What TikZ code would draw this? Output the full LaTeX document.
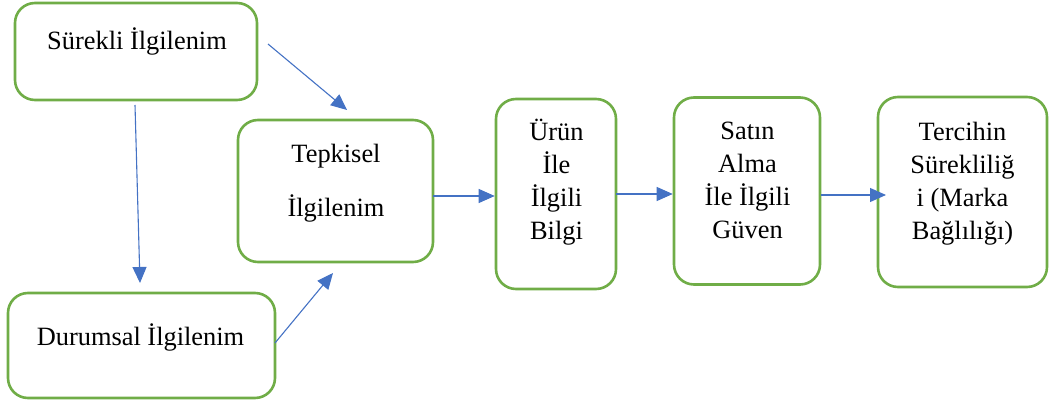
\documentclass[tikz,border=0pt]{standalone}
\usepackage{fontspec}
\setmainfont{Liberation Serif}
\usetikzlibrary{arrows.meta}
\definecolor{boxgreen}{RGB}{112,173,71}
\definecolor{arrowblue}{RGB}{68,114,196}
\begin{document}
\begin{tikzpicture}[x=1pt,y=-1pt,
  box/.style={draw=boxgreen,line width=2.6pt,rounded corners=20pt,inner sep=0pt},
  txt/.style={inner sep=0pt,align=center,anchor=base,font=\fontsize{26.4}{33.3}\selectfont},
  conn/.style={draw=arrowblue,line width=1.1pt,-{Triangle[length=16pt,width=14pt]}}]
\useasboundingbox (0,0) rectangle (1049,403);
% boxes
\node[box,minimum width=242pt,minimum height=97pt] (b1) at (136,51.5) {};
\node[box,minimum width=195pt,minimum height=142pt] (b2) at (335.5,191) {};
\node[box,minimum width=120pt,minimum height=190pt] (b3) at (556,194) {};
\node[box,minimum width=146pt,minimum height=187pt] (b4) at (747,191) {};
\node[box,minimum width=169pt,minimum height=190pt] (b5) at (962.5,192) {};
\node[box,minimum width=267pt,minimum height=105pt] (b6) at (141.5,345.5) {};
% texts
\node[txt] (t1) at (137,50) {Sürekli İlgilenim};
\node[txt,font=\fontsize{26.4}{54}\selectfont] (t2) at (336,217) {Tepkisel\\İlgilenim};
\node[txt] (t3) at (556.5,240) {Ürün\\İle\\İlgili\\Bilgi};
\node[txt] (t4) at (747.5,239) {Satın\\Alma\\İle İlgili\\Güven};
\node[txt] (t5) at (962.5,240) {Tercihin\\Sürekliliğ\\i (Marka\\Bağlılığı)};
\node[txt] (t6) at (140.5,345) {Durumsal İlgilenim};
% connector end points
\coordinate (s1) at (268,44);
\coordinate (e1) at (347,110);
\coordinate (s2) at (135,105);
\coordinate (e2) at (140,283);
\coordinate (s3) at (275,343);
\coordinate (e3) at (333,273);
\coordinate (s4) at (433,196);
\coordinate (s5) at (616,194);
\coordinate (s6) at (821,195);
\coordinate (e6) at (886,195);
\draw[conn] (s1) -- (e1);
\draw[conn] (s2) -- (e2);
\draw[conn] (s3) -- (e3);
\draw[conn] (s4) -- (b3.west |- s4);
\draw[conn] (s5) -- (b4.west |- s5);
\draw[conn] (s6) -- (e6);
\end{tikzpicture}
\end{document}
